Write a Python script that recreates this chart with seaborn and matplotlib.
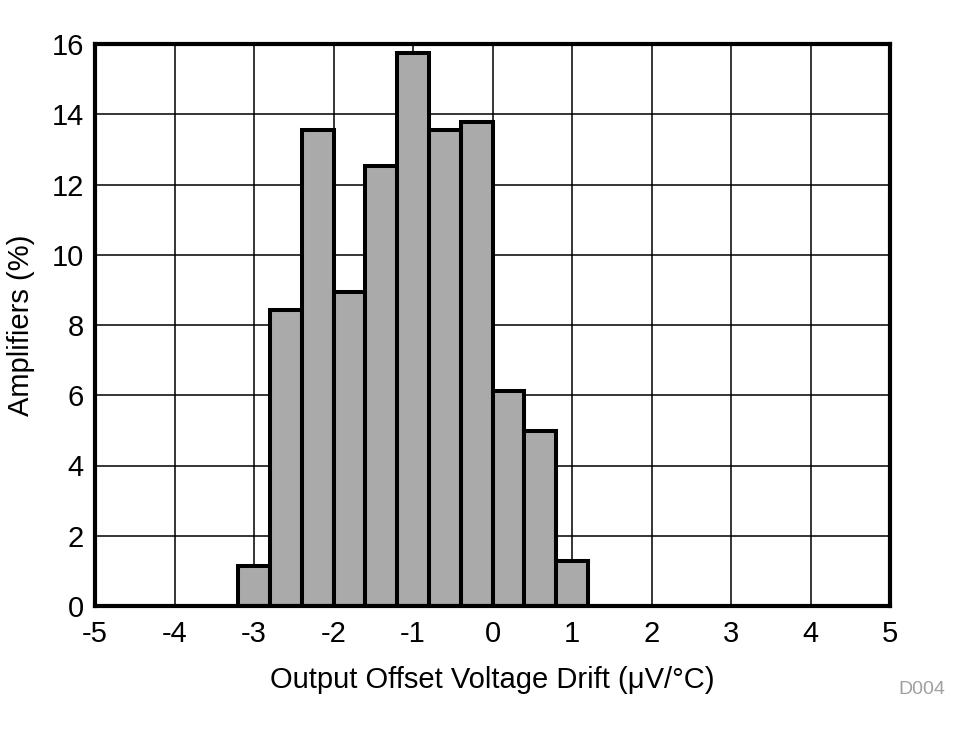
import matplotlib
matplotlib.use("Agg")
import matplotlib.pyplot as plt
import seaborn as sns
import numpy as np

# Data
bin_edges = [-3.2, -2.8, -2.4, -2.0, -1.6, -1.2, -0.8, -0.4, 0.0, 0.4, 0.8, 1.2]
bin_centers = [-3.0, -2.6, -2.2, -1.8, -1.4, -1.0, -0.6, -0.2, 0.2, 0.6, 1.0]
percent = [1.14, 8.43, 13.56, 8.95, 12.54, 15.73, 13.56, 13.79, 6.13, 4.99, 1.28]
x_ticks = [-5, -4, -3, -2, -1, 0, 1, 2, 3, 4, 5]
y_ticks = [0, 2, 4, 6, 8, 10, 12, 14, 16]

sns.set_style("white")
plt.rcParams['font.family'] = ['Liberation Sans', 'DejaVu Sans']

fig = plt.figure(figsize=(9.72, 7.34), dpi=100)
ax = fig.add_axes([95/972, 128/734, 795/972, 562/734])

ax.grid(True, color="black", linewidth=1.1)
ax.set_axisbelow(True)

sns.histplot(x=bin_centers, weights=percent, bins=bin_edges, ax=ax,
             color="#AAAAAA", alpha=1.0, edgecolor="black", linewidth=2.9)

ax.set_xlim(-5, 5)
ax.set_ylim(0, 16)
ax.set_xticks(x_ticks)
ax.set_yticks(y_ticks)
ax.set_xticklabels([str(t) for t in x_ticks])
ax.tick_params(axis="both", length=0, labelsize=21, colors="black",
               labelcolor="black")
ax.tick_params(axis="x", pad=10)
ax.tick_params(axis="y", pad=8)

for s in ax.spines.values():
    s.set_visible(True)
    s.set_color("black")
    s.set_linewidth(3)

ax.set_xlabel("Output Offset Voltage Drift (μV/°C)", fontsize=21, labelpad=13,
              color="black")
ax.set_ylabel("Amplifiers (%)", fontsize=21, labelpad=12, color="black")

fig.text(922/972, 1 - 690/734, "D004", fontsize=14, color="#A0A0A0",
         ha="center", va="center")

fig.savefig("out.png", dpi=100)
